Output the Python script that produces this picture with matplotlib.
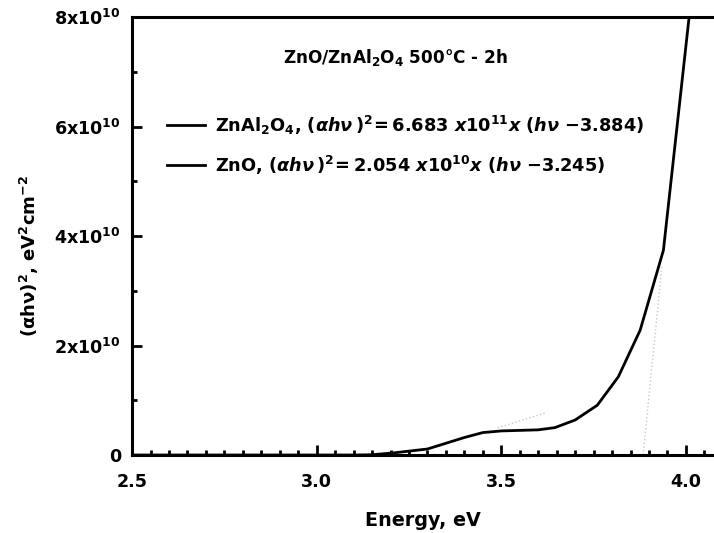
import matplotlib
matplotlib.use('Agg')
import matplotlib.pyplot as plt
from matplotlib.ticker import MultipleLocator, FixedLocator

plt.rcParams['font.family'] = 'DejaVu Sans'
plt.rcParams['font.weight'] = 'bold'
plt.rcParams['mathtext.fontset'] = 'custom'
plt.rcParams['mathtext.rm'] = 'DejaVu Sans:bold'
plt.rcParams['mathtext.bf'] = 'DejaVu Sans:bold'
plt.rcParams['mathtext.it'] = 'DejaVu Sans:bold:italic'
plt.rcParams['mathtext.default'] = 'rm'

# measured (alpha h nu)^2 curve
energy = [2.50, 3.10, 3.15, 3.21, 3.30, 3.40, 3.45, 3.50, 3.60, 3.645, 3.70, 3.76, 3.817, 3.876, 3.939, 4.02]
ahv2 = [0.0, 0.0, 0.005e10, 0.04e10, 0.11e10, 0.32e10, 0.41e10, 0.44e10, 0.46e10, 0.50e10, 0.64e10, 0.91e10, 1.43e10, 2.28e10, 3.74e10, 8.7e10]

# linear fits (end points)
fit_znal_x = [3.884, 3.935]
fit_znal_y = [0.0, 3.45e10]
fit_zno_x = [3.49, 3.62]
fit_zno_y = [0.50e10, 0.77e10]

yticks = [0, 2e10, 4e10, 6e10, 8e10]
ytick_labels = ['0', r'2x10$^{10}$', r'4x10$^{10}$', r'6x10$^{10}$', r'8x10$^{10}$']

fig = plt.figure(figsize=(7.14, 5.33), dpi=100)
ax = fig.add_axes([0.185, 0.1463, 0.815, 0.8218])

ax.plot(fit_znal_x, fit_znal_y, color='#c8c8c8', lw=1.0, ls=':')
ax.plot(fit_zno_x, fit_zno_y, color='#c8c8c8', lw=1.0, ls=':')
ax.plot(energy, ahv2, color='black', lw=2.0, solid_joinstyle='miter')

ax.set_xlim(2.5, 4.076)
ax.set_ylim(0, 8e10)
ax.xaxis.set_major_locator(FixedLocator([2.5, 3.0, 3.5, 4.0]))
ax.xaxis.set_minor_locator(MultipleLocator(0.05))
ax.set_xticklabels(['2.5', '3.0', '3.5', '4.0'])
ax.set_yticks(yticks)
ax.set_yticklabels(ytick_labels)
ax.yaxis.set_minor_locator(MultipleLocator(1e10))

ax.tick_params(which='both', direction='in', width=2, labelsize=12.6)
ax.tick_params(which='major', length=7, pad=8)
ax.tick_params(which='minor', length=3.5)
ax.tick_params(axis='x', pad=13)
for s in ['left', 'bottom', 'top']:
    ax.spines[s].set_linewidth(2.2)
ax.spines['right'].set_visible(False)

ax.set_xlabel('Energy, eV', fontsize=13.8, fontweight='bold', labelpad=14)
fig.text(29 / 714, 1 - 256 / 533, r'($\alpha$h$\nu$)$^2$, eV$^2$cm$^{-2}$', fontsize=13,
         fontweight='bold', rotation=90, ha='center', va='center')

ax.plot([], [], color='black', lw=2.0,
        label=r'ZnAl$_2$O$_4$, $\mathit{(\alpha h\nu\,)^{2}\!= 6.683\ x10^{11}x\ (h\nu\ {-}3.884)}$')
ax.plot([], [], color='black', lw=2.0,
        label=r'ZnO, $\mathit{(\alpha h\nu\,)^{2}\!= 2.054\ x10^{10}x\ (h\nu\ {-}3.245)}$')
leg = ax.legend(frameon=False, loc='upper left', bbox_to_anchor=(0.033, 0.816),
                fontsize=12.8, handlelength=2.1, handletextpad=0.56, labelspacing=0.95)

fig.text(395.5 / 714, 1 - 57 / 533, r'ZnO/ZnAl$_2$O$_4$ 500°C - 2h', fontsize=12.2,
         fontweight='bold', ha='center', va='center')

fig.savefig('out.png', dpi=100)
